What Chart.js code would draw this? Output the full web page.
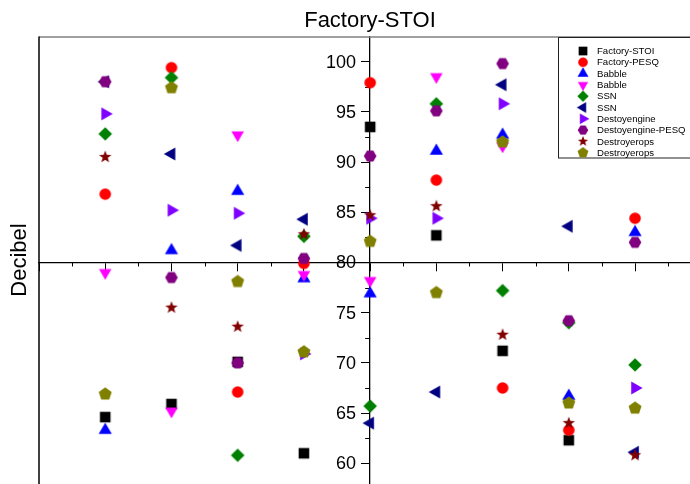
<!DOCTYPE html>
<html>
<head>
<meta charset="utf-8">
<script src="https://cdn.jsdelivr.net/npm/chart.js@4/dist/chart.umd.min.js"></script>
<style>
  body { margin: 0; background: #fff; }
  #wrap { width: 690px; height: 484px; }
</style>
</head>
<body>
<div id="wrap"><canvas id="chart" width="690" height="484"></canvas></div>
<script>
// SNR columns (no labels shown on the axis)
const snr = [-4, -3, -2, -1, 0, 1, 2, 3, 4];

const factoryStoi   = [64.6, 65.9, 70.1, 61.0, 93.5, 82.7, 71.2, 62.3, null];
const factoryPesq   = [86.8, 99.4, 67.1, 79.9, 97.9, 88.2, 67.5, 63.3, 84.4];
const babbleUp      = [63.3, 81.2, 87.1, 78.4, 76.9, 91.1, 92.7, 66.7, 83.0];
const babbleDown    = [79.0, 65.2, 92.7, 78.8, 78.2, 98.5, 91.6, null, null];
const ssnDiamond    = [92.8, 98.4, 60.8, 82.6, 65.7, 95.8, 77.2, 74.0, 69.8];
const ssnLeft       = [98.0, 90.8, 81.7, 84.3, 64.0, 67.1, 97.7, 83.6, 61.1];
const destoyengine  = [94.8, 85.2, 84.9, 70.9, 84.4, 84.4, 95.8, null, 67.5];
const destoyPesq    = [98.0, 78.5, 70.0, 80.4, 90.6, 95.1, 99.8, 74.2, 82.0];
const destroyStar   = [90.5, 75.5, 73.6, 82.8, 84.7, 85.6, 72.8, 64.0, 60.8];
const destroyPent   = [66.9, 97.4, 78.1, 71.1, 82.1, 77.0, 92.0, 66.0, 65.5];

const yTicksMajor = [60, 65, 70, 75, 80, 85, 90, 95, 100];

// marker shapes drawn into small canvases
function polygon(ctx, c, r, n, startDeg) {
  ctx.beginPath();
  for (let i = 0; i < n; i++) {
    const a = (startDeg + i * 360 / n) * Math.PI / 180;
    const px = c + r * Math.cos(a), py = c + r * Math.sin(a);
    if (i === 0) ctx.moveTo(px, py); else ctx.lineTo(px, py);
  }
  ctx.closePath();
}

function makeMarker(shape, color) {
  const cv = document.createElement('canvas');
  cv.width = 18; cv.height = 18;
  const ctx = cv.getContext('2d');
  const c = 9;
  ctx.fillStyle = color;
  if (shape === 'square') {
    ctx.beginPath(); ctx.rect(c - 5.3, c - 5.3, 10.6, 10.6);
  } else if (shape === 'circle') {
    ctx.beginPath(); ctx.arc(c, c, 5.8, 0, Math.PI * 2);
  } else if (shape === 'up') {
    polygon(ctx, c, 7.6, 3, -90);
  } else if (shape === 'down') {
    polygon(ctx, c, 7.2, 3, 90);
  } else if (shape === 'left') {
    polygon(ctx, c, 7.6, 3, 180);
  } else if (shape === 'right') {
    polygon(ctx, c, 7.6, 3, 0);
  } else if (shape === 'diamond') {
    polygon(ctx, c, 6.8, 4, -90);
  } else if (shape === 'hexagon') {
    polygon(ctx, c, 6.3, 6, 0);
  } else if (shape === 'pentagon') {
    polygon(ctx, c, 6.8, 5, -90);
  } else if (shape === 'star') {
    ctx.beginPath();
    for (let i = 0; i < 10; i++) {
      const r = i % 2 === 0 ? 6.6 : 2.7;
      const a = (-90 + i * 36) * Math.PI / 180;
      const px = c + r * Math.cos(a), py = c + r * Math.sin(a);
      if (i === 0) ctx.moveTo(px, py); else ctx.lineTo(px, py);
    }
    ctx.closePath();
  }
  ctx.fill();
  return cv;
}

const series = [
  { name: 'Factory-STOI',      values: factoryStoi,  shape: 'square',   color: '#000000' },
  { name: 'Factory-PESQ',      values: factoryPesq,  shape: 'circle',   color: '#ff0000' },
  { name: 'Babble',            values: babbleUp,     shape: 'up',       color: '#0000ff' },
  { name: 'Babble',            values: babbleDown,   shape: 'down',     color: '#ff00ff' },
  { name: 'SSN',               values: ssnDiamond,   shape: 'diamond',  color: '#008000' },
  { name: 'SSN',               values: ssnLeft,      shape: 'left',     color: '#000080' },
  { name: 'Destoyengine',      values: destoyengine, shape: 'right',    color: '#8000ff' },
  { name: 'Destoyengine-PESQ', values: destoyPesq,   shape: 'hexagon',  color: '#800080' },
  { name: 'Destroyerops',      values: destroyStar,  shape: 'star',     color: '#800000' },
  { name: 'Destroyerops',      values: destroyPent,  shape: 'pentagon', color: '#808000' }
];

const datasets = series.map((s, i) => {
  const img = makeMarker(s.shape, s.color);
  s.img = img;
  return {
    label: s.name,
    data: snr.map((x, k) => ({ x: x, y: s.values[k] })).filter(p => p.y !== null),
    pointStyle: img,
    pointRadius: 6,
    backgroundColor: s.color,
    borderColor: s.color,
    borderWidth: 0,
    order: series.length - i   // later series drawn on top
  };
});

const FONT = "'Liberation Sans', Arial, sans-serif";

// centred axes should not eat any layout space
function noPadding(scale) {
  scale.paddingTop = 0; scale.paddingBottom = 0;
  scale.paddingLeft = 0; scale.paddingRight = 0;
}

// frame, title, y label, tick labels, minor ticks and legend
const decorPlugin = {
  id: 'decor',
  beforeDatasetsDraw(chart) {
    const { ctx, chartArea: a, scales } = chart;
    ctx.save();
    // top border (grey) and left border
    ctx.strokeStyle = '#808080';
    ctx.lineWidth = 1.5;
    ctx.beginPath(); ctx.moveTo(a.left, a.top + 0.5); ctx.lineTo(a.right, a.top + 0.5); ctx.stroke();
    ctx.strokeStyle = '#000';
    ctx.lineWidth = 1.5;
    ctx.beginPath(); ctx.moveTo(a.left, a.top); ctx.lineTo(a.left, a.bottom); ctx.stroke();

    // minor ticks
    const x0 = scales.x.getPixelForValue(0);
    const y80 = scales.y.getPixelForValue(80);
    ctx.lineWidth = 1;
    ctx.beginPath();
    for (let v = -4.5; v < 5; v += 1) {
      const px = Math.round(scales.x.getPixelForValue(v)) + 0.5;
      ctx.moveTo(px, y80); ctx.lineTo(px, y80 + 4);
    }
    for (let v = 62.5; v < 101; v += 5) {
      const py = Math.round(scales.y.getPixelForValue(v)) + 0.5;
      ctx.moveTo(x0, py); ctx.lineTo(x0 - 5, py);
    }
    ctx.stroke();

    // y tick labels, left of the centred axis
    ctx.fillStyle = '#000';
    ctx.font = '18px ' + FONT;
    ctx.textAlign = 'right';
    ctx.textBaseline = 'middle';
    yTicksMajor.forEach(v => {
      ctx.fillText(String(v), x0 - 14, scales.y.getPixelForValue(v) + 1);
    });

    // title and y label
    ctx.font = '22px ' + FONT;
    ctx.textAlign = 'center';
    ctx.textBaseline = 'alphabetic';
    ctx.fillText('Factory-STOI', 370, 27);
    ctx.save();
    ctx.translate(26, 260);
    ctx.rotate(-Math.PI / 2);
    ctx.fillText('Decibel', 0, 0);
    ctx.restore();
    ctx.restore();
  },
  afterDraw(chart) {
    const { ctx } = chart;
    ctx.save();
    ctx.fillStyle = '#fff';
    ctx.fillRect(559, 38, 140, 120);
    ctx.strokeStyle = '#222';
    ctx.lineWidth = 1;
    ctx.strokeRect(558.5, 37.5, 140, 120.5);
    ctx.font = '9.6px ' + FONT;
    ctx.textAlign = 'left';
    ctx.textBaseline = 'middle';
    ctx.fillStyle = '#000';
    series.forEach((s, i) => {
      const cy = 51 + i * 11.3;
      ctx.drawImage(s.img, 583 - 7.5, cy - 7.5, 15, 15);
      ctx.fillText(s.name, 597, cy + 0.5);
    });
    ctx.restore();
  }
};

new Chart(document.getElementById('chart'), {
  type: 'scatter',
  data: { datasets: datasets },
  options: {
    responsive: false,
    animation: false,
    layout: { autoPadding: false, padding: { left: 39, top: 36.5, right: 0, bottom: 0 } },
    plugins: { legend: { display: false }, tooltip: { enabled: false }, title: { display: false } },
    scales: {
      x: {
        type: 'linear',
        min: -5,
        max: 4.83,
        position: { y: 80 },
        afterFit: noPadding,
        ticks: { display: false, stepSize: 1, includeBounds: false },
        grid: { drawOnChartArea: false, drawTicks: true, tickLength: 8, color: '#000', tickColor: '#000' },
        border: { display: true, color: '#000', width: 1.3 }
      },
      y: {
        type: 'linear',
        min: 57.94,
        max: 102.5,
        position: { x: 0 },
        afterFit: noPadding,
        afterBuildTicks(scale) {
          scale.ticks = yTicksMajor.map(v => ({ value: v }));
        },
        ticks: { display: false, includeBounds: false },
        grid: { drawOnChartArea: false, drawTicks: true, tickLength: 8, color: '#000', tickColor: '#000' },
        border: { display: true, color: '#000', width: 1.3 }
      }
    }
  },
  plugins: [decorPlugin]
});
</script>
</body>
</html>
